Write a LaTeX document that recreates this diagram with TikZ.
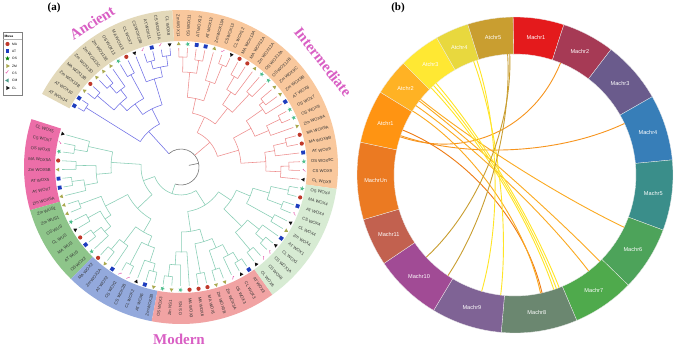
\documentclass[tikz,border=0pt]{standalone}
\usepackage{fontspec}
\setmainfont{Liberation Serif}
\setsansfont{Liberation Sans}
\newfontfamily\djv{DejaVu Sans}
\usetikzlibrary{calc,shapes.geometric}
\definecolor{cOr}{HTML}{F9C89D}
\definecolor{cTan}{HTML}{E3D9BA}
\definecolor{cPk}{HTML}{EC6EA8}
\definecolor{cGr}{HTML}{8EC58A}
\definecolor{cBl}{HTML}{93A9DC}
\definecolor{cSa}{HTML}{F1A3A3}
\definecolor{cLg}{HTML}{D7EBD3}
\definecolor{brBlue}{HTML}{6E6EE6}
\definecolor{brRed}{HTML}{EE8C8C}
\definecolor{brTeal}{HTML}{86CDB4}
\definecolor{brRoot}{HTML}{777777}
\definecolor{mMAc}{HTML}{C0392B}
\definecolor{mATc}{HTML}{1E3DBE}
\definecolor{mOSc}{HTML}{4DBE8C}
\definecolor{mZMc}{HTML}{A9A94E}
\definecolor{mCSc}{HTML}{E0409E}
\definecolor{mCLc}{HTML}{111111}
\definecolor{mCMc}{HTML}{4A9A88}
\definecolor{bigc}{HTML}{D95FC4}
\definecolor{k1}{HTML}{E41A1C}
\definecolor{k2}{HTML}{A63A55}
\definecolor{k3}{HTML}{6A5B8C}
\definecolor{k4}{HTML}{377EB8}
\definecolor{k5}{HTML}{3A8E8A}
\definecolor{k6}{HTML}{4DA35A}
\definecolor{k7}{HTML}{4FAA4C}
\definecolor{k8}{HTML}{6B8770}
\definecolor{k9}{HTML}{7F6395}
\definecolor{k10}{HTML}{A14B95}
\definecolor{k11}{HTML}{C2614F}
\definecolor{kUn}{HTML}{EB7A22}
\definecolor{a1}{HTML}{FF9412}
\definecolor{a2}{HTML}{FFB224}
\definecolor{a3}{HTML}{FFE833}
\definecolor{a4}{HTML}{E8D83E}
\definecolor{a5}{HTML}{C99E30}
\definecolor{ch1}{HTML}{F7941D}
\definecolor{ch1d}{HTML}{EE7A12}
\definecolor{ch2}{HTML}{FBAA22}
\definecolor{ch3}{HTML}{FFE526}
\definecolor{ch5}{HTML}{C99E30}
\def\sS{4.21687}
\def\off{0}
\def\L{119}
\newcommand\angl[1]{(-8+\sS*((#1)+0.5+\off))}
\newcommand\Cl[5]{%
  \draw ({\angl{#2}}:#1) arc[start angle={\angl{#2}}, end angle={\angl{#4}}, radius=#1];
  \draw ({\angl{#2}}:#1) -- ({\angl{#2}}:#3);
  \draw ({\angl{#4}}:#1) -- ({\angl{#4}}:#5);}
\newcommand\ringsec[3]{\fill[#3] ({\angl{#1}}:126) arc[start angle={\angl{#1}}, end angle={\angl{#2}}, radius=126] -- ({\angl{#2}}:157) arc[start angle={\angl{#2}}, end angle={\angl{#1}}, radius=157] -- cycle;}
\newcommand\gmMA{\fill[mMAc] (\myA:123) circle (2.1);}
\newcommand\gmAT{\node[fill=mATc,minimum size=3.8pt,inner sep=0pt,rotate=\myA] at (\myA:123) {};}
\newcommand\gmOS{\node[star,star points=5,star point ratio=2.4,fill=mOSc,minimum size=4.8pt,inner sep=0pt,rotate=\myA] at (\myA:123) {};}
\newcommand\gmZM{\node[isosceles triangle,isosceles triangle apex angle=60,fill=mZMc,minimum size=3.4pt,inner sep=0pt,rotate=\myA] at (\myA:123) {};}
\newcommand\gmCL{\node[isosceles triangle,isosceles triangle apex angle=60,fill=mCLc,minimum size=3.4pt,inner sep=0pt,rotate=\myA+180] at (\myA:123) {};}
\newcommand\gmCS{\node[text=mCSc,font=\djv\fontsize{5.5}{5.5}\selectfont,inner sep=0pt,rotate=\myA-90] at (\myA:123) {✓};}
\newcommand\lf[3]{\pgfmathsetmacro\myA{\angl{#1}}\pgfmathsetmacro\myR{ifthenelse(and(\myA>90,\myA<270),\myA-180,\myA)}\node[glab,rotate=\myR] at (\myA:141.5) {#3};\csname gm#2\endcsname}
\newcommand\seg[4]{\fill[#3, draw=white!85!gray, line width=0.3pt] (#1:121) arc[start angle=#1,end angle=#2,radius=121] -- (#2:158) arc[start angle=#2,end angle=#1,radius=158] -- cycle;
  \node[seglab] at ({(#1+#2)/2}:139.5) {#4};}
\newcommand\chord[3]{\draw[#3, line width=0.9pt] (#1:121) .. controls (#1:50) and (#2:50) .. (#2:121);}
\tikzset{
  glab/.style={font=\sffamily\fontsize{4.2}{4.2}\selectfont, text=black!80, inner sep=0pt},
  seglab/.style={font=\sffamily\fontsize{5.6}{5.6}\selectfont, text=white, inner sep=0pt},
  biglab/.style={font=\bfseries\fontsize{15}{15}\selectfont, text=bigc, inner sep=0pt},
  panlab/.style={font=\bfseries\fontsize{11}{11}\selectfont, text=black, inner sep=0pt},
  leglab/.style={font=\sffamily\fontsize{3.3}{3.3}\selectfont, anchor=west, inner sep=0pt},
}
\begin{document}
\begin{tikzpicture}[x=1pt,y=1pt]
\useasboundingbox (0,0) rectangle (674,346);
\fill[white] (0,0) rectangle (674,346);
% ---------------- panel (a)
\node[panlab] (pa) at (54,338) {(a)};
\begin{scope}[shift={(181,179)}]
  \ringsec{-0.5}{23.5}{cOr}
  \ringsec{23.5}{37.5}{cTan}
  \def\off{2.3714}
  \ringsec{37.5}{45.5}{cPk}
  \ringsec{45.5}{52.5}{cGr}
  \ringsec{52.5}{60.5}{cBl}
  \ringsec{60.5}{71.5}{cSa}
  \ringsec{71.5}{82.5}{cLg}
  \def\off{0}
  % root
  \begin{scope}[draw=brRoot, line width=0.6pt]
    \draw (-108.8:18) arc[start angle=-108.8, end angle=132.28, radius=18];
    \draw (11.74:8) -- (11.74:18);
  \end{scope}
  % intermediate
  \begin{scope}[draw=brRed, line width=0.55pt]
    \draw (40.49:18) -- (40.49:38);
    \Cl{108}{1}{\L}{2}{\L}
    \Cl{100}{0}{\L}{1.5}{108}
    \Cl{108}{4}{\L}{5}{\L}
    \Cl{95}{3}{\L}{4.5}{108}
    \Cl{85}{0.75}{100}{3.75}{95}
    \Cl{110}{7}{\L}{8}{\L}
    \Cl{95}{6}{\L}{7.5}{110}
    \Cl{105}{10}{\L}{11}{\L}
    \Cl{100}{9}{\L}{10.5}{105}
    \Cl{80}{6.75}{95}{9.75}{100}
    \Cl{60}{2.25}{85}{8.25}{80}
    \Cl{100}{12}{\L}{13}{\L}
    \Cl{105}{15}{\L}{16}{\L}
    \Cl{90}{14}{\L}{15.5}{105}
    \Cl{75}{12.5}{100}{14.75}{90}
    \Cl{110}{17}{\L}{18}{\L}
    \Cl{90}{17.5}{110}{19}{\L}
    \Cl{108}{20}{\L}{21}{\L}
    \Cl{110}{22}{\L}{23}{\L}
    \Cl{95}{20.5}{108}{22.5}{110}
    \Cl{70}{18.25}{90}{21.5}{95}
    \Cl{55}{13.625}{75}{19.875}{70}
    \Cl{38}{5.25}{60}{16.75}{55}
  \end{scope}
  % ancient
  \begin{scope}[draw=brBlue, line width=0.55pt]
    \draw (132.28:18) -- (132.28:48);
    \Cl{112}{24}{\L}{25}{\L}
    \Cl{110}{26}{\L}{27}{\L}
    \Cl{102}{24.5}{112}{26.5}{110}
    \Cl{92}{25.5}{102}{28}{\L}
    \Cl{105}{29}{\L}{30}{\L}
    \Cl{108}{32}{\L}{33}{\L}
    \Cl{98}{31}{\L}{32.5}{108}
    \Cl{110}{34}{\L}{35}{\L}
    \Cl{88}{31.75}{98}{34.5}{110}
    \Cl{78}{29.5}{105}{33.125}{88}
    \Cl{65}{26.75}{92}{31.3125}{78}
    \Cl{112}{36}{\L}{37}{\L}
    \Cl{48}{29.03125}{65}{36.5}{112}
  \end{scope}
  % modern
  \def\off{2.3714}
  \begin{scope}[draw=brTeal, line width=0.55pt]
    \draw (251.2:18) -- (251.2:28);
    \Cl{108}{39}{\L}{40}{\L}
    \Cl{95}{38}{\L}{39.5}{108}
    \Cl{105}{41}{\L}{42}{\L}
    \Cl{110}{43}{\L}{44}{\L}
    \Cl{98}{43.5}{110}{45}{\L}
    \Cl{85}{41.5}{105}{44.25}{98}
    \Cl{70}{38.75}{95}{42.875}{85}
    \Cl{108}{46}{\L}{47}{\L}
    \Cl{106}{48}{\L}{49}{\L}
    \Cl{110}{50}{\L}{51}{\L}
    \Cl{100}{50.5}{110}{52}{\L}
    \Cl{92}{48.5}{106}{51.25}{100}
    \Cl{85}{46.5}{108}{49.875}{92}
    \Cl{108}{53}{\L}{54}{\L}
    \Cl{95}{53.5}{108}{55}{\L}
    \Cl{110}{56}{\L}{57}{\L}
    \Cl{108}{59}{\L}{60}{\L}
    \Cl{100}{58}{\L}{59.5}{108}
    \Cl{85}{56.5}{110}{58.75}{100}
    \Cl{75}{54.25}{95}{57.625}{85}
    \Cl{60}{48.1875}{85}{55.9375}{75}
    \Cl{40}{40.8125}{70}{52.0625}{60}
    \Cl{110}{61}{\L}{62}{\L}
    \Cl{98}{61.5}{110}{63}{\L}
    \Cl{85}{62.25}{98}{64}{\L}
    \Cl{108}{65}{\L}{66}{\L}
    \Cl{108}{67}{\L}{68}{\L}
    \Cl{110}{70}{\L}{71}{\L}
    \Cl{100}{69}{\L}{70.5}{110}
    \Cl{88}{67.5}{108}{69.75}{100}
    \Cl{78}{65.5}{108}{68.625}{88}
    \Cl{65}{63.125}{85}{67.0625}{78}
    \Cl{108}{72}{\L}{73}{\L}
    \Cl{110}{74}{\L}{75}{\L}
    \Cl{100}{74.5}{110}{76}{\L}
    \Cl{85}{72.5}{108}{75.25}{100}
    \Cl{105}{77}{\L}{78}{\L}
    \Cl{108}{79}{\L}{80}{\L}
    \Cl{110}{81}{\L}{82}{\L}
    \Cl{92}{79.5}{108}{81.5}{110}
    \Cl{75}{77.5}{105}{80.5}{92}
    \Cl{60}{73.875}{85}{79}{75}
    \Cl{45}{65.09375}{65}{76.4375}{60}
    \Cl{28}{46.4375}{40}{70.765625}{45}
  \end{scope}
  % leaves
  \def\off{0}
  \lf{0}{CL}{CL WOX9}\lf{1}{CS}{CS WOX9}\lf{2}{OS}{OS WOX9C}\lf{3}{AT}{AT WOX9}
  \lf{4}{MA}{MA WOX9B}\lf{5}{MA}{MA WOX9A}\lf{6}{ZM}{Zm WOX9A}\lf{7}{OS}{OS WOX9}
  \lf{8}{OS}{OS WOX7}\lf{9}{AT}{AT WOX8}\lf{10}{ZM}{Zm WOX9B}\lf{11}{ZM}{Zm WOX9C}
  \lf{12}{OS}{OS WOX12B}\lf{13}{OS}{OS WOX12A}\lf{14}{ZM}{Zm WOX12A}\lf{15}{MA}{MA WOX12A}
  \lf{16}{MA}{MA WOX13A}\lf{17}{CL}{CL WOX12}\lf{18}{CS}{CS WOX13}\lf{19}{ZM}{Zm WOX13A}
  \lf{20}{AT}{AT WOX13}\lf{21}{AT}{AT WOX12}\lf{22}{OS}{OS WOX11}\lf{23}{ZM}{Zm WOX11}
  \lf{24}{CL}{CL WOX8}\lf{25}{CS}{CS WOX13A}\lf{26}{AT}{AT WOX11}\lf{27}{CS}{CS WOX13B}
  \lf{28}{CL}{CL WOX7}\lf{29}{MA}{MA WOX13}\lf{30}{OS}{OS WOX13}\lf{31}{ZM}{Zm WOX13E}
  \lf{32}{ZM}{Zm WOX13C}\lf{33}{ZM}{Zm WOX13D}\lf{34}{MA}{MA WOX13B}\lf{35}{ZM}{Zm WOX13B}
  \lf{36}{AT}{AT WOX10}\lf{37}{AT}{AT WOX14}
  \def\off{2.3714}
  \lf{38}{CL}{CL WOX5}\lf{39}{CS}{CS WOX7}\lf{40}{OS}{OS WOX5}\lf{41}{MA}{MA WOX5A}
  \lf{42}{ZM}{Zm WOX5B}\lf{43}{AT}{AT WOX5}\lf{44}{AT}{AT WOX7}\lf{45}{ZM}{Zm WOX5A}
  \lf{46}{ZM}{Zm WUS2}\lf{47}{ZM}{Zm WUS1}\lf{48}{OS}{OS WUS}\lf{49}{CL}{CL WUS}
  \lf{50}{MA}{MA WUS}\lf{51}{AT}{AT WUS}\lf{52}{OS}{OS WOX2}
  \lf{53}{MA}{MA WOX2}\lf{54}{ZM}{Zm WOX2A}\lf{55}{AT}{AT WOX2}\lf{56}{CS}{CS WOX2}
  \lf{57}{CS}{CS WOX2B}\lf{58}{CL}{CL WOX2}\lf{59}{AT}{AT WOX6}\lf{60}{ZM}{Zm WOX2B}
  \lf{61}{OS}{OS WOX3}\lf{62}{ZM}{Zm NS1}\lf{63}{OS}{OS NS}\lf{64}{MA}{MA WOX3}
  \lf{65}{MA}{MA WOX6}\lf{66}{MA}{MA WOX1}\lf{67}{ZM}{Zm WOX3B}\lf{68}{ZM}{Zm WOX3A}
  \lf{69}{CS}{CS WOX3}\lf{70}{CL}{CL WOX3}\lf{71}{AT}{AT WOX3}
  \lf{72}{CL}{CL WOX6}\lf{73}{CS}{CS WOX6}\lf{74}{CS}{CS WOX1A}\lf{75}{CL}{CL WOX1}
  \lf{76}{AT}{AT WOX1}\lf{77}{ZM}{Zm WOX4}\lf{78}{CL}{CL WOX4}\lf{79}{CS}{CS WOX4}
  \lf{80}{AT}{AT WOX4}\lf{81}{MA}{MA WOX4}\lf{82}{OS}{OS WOX4}
\end{scope}
\node[biglab, rotate=32] (tAnc) at (92,323) {Ancient};
\node[biglab, rotate=-52] (tInt) at (323,284) {Intermediate};
\node[biglab, anchor=base] (tMod) at (179,2) {Modern};
% legend
\draw[gray, line width=0.4pt, fill=white] (3,314) rectangle (22,251);
\node[font=\sffamily\bfseries\fontsize{3.3}{3.3}\selectfont, anchor=west, inner sep=0pt] (lgT) at (4.5,309.5) {Musa};
\draw[gray!60, line width=0.2pt] (3,306.5) -- (22,306.5);
\fill[mMAc] (7.5,302) circle (2.1);
\node[leglab] (lg1) at (12,302) {MA};
\node[fill=mATc, minimum size=3.8pt, inner sep=0pt] (lgs2) at (7.5,295) {};
\node[leglab] (lg2) at (12,295) {AT};
\node[star,star points=5,star point ratio=2.4,fill=green!50!black,minimum size=4.8pt,inner sep=0pt] (lgs3) at (7.5,287.5) {};
\node[leglab] (lg3) at (12,287.5) {OS};
\node[isosceles triangle,isosceles triangle apex angle=60,fill=mZMc,minimum size=3.6pt,inner sep=0pt] (lgs4) at (7.5,280) {};
\node[leglab] (lg4) at (12,280) {ZM};
\node[text=mCSc,font=\djv\fontsize{6}{6}\selectfont,inner sep=0pt] (lgs5) at (7.5,273) {✓};
\node[leglab] (lg5) at (12,273) {CS};
\node[isosceles triangle,isosceles triangle apex angle=60,fill=mCMc,minimum size=3.6pt,inner sep=0pt,rotate=180] (lgs6) at (7.5,265.5) {};
\node[leglab] (lg6) at (12,265.5) {CM};
\node[isosceles triangle,isosceles triangle apex angle=60,fill=mCLc,minimum size=3.6pt,inner sep=0pt] (lgs7) at (7.5,258) {};
\node[leglab] (lg7) at (12,258) {CL};
% ---------------- panel (b)
\node[panlab] (pb) at (398,338) {(b)};
\begin{scope}[shift={(515,171)}]
  \seg{72}{90.7}{k1}{Machr1}
  \seg{52.6}{72}{k2}{Machr2}
  \seg{29.7}{52.6}{k3}{Machr3}
  \seg{5.5}{29.7}{k4}{Machr4}
  \seg{-20.4}{5.5}{k5}{Machr5}
  \seg{-44.2}{-20.4}{k6}{Machr6}
  \seg{-67}{-44.2}{k7}{Machr7}
  \seg{-95}{-67}{k8}{Machr8}
  \seg{-121}{-95}{k9}{Machr9}
  \seg{-146}{-121}{k10}{Machr10}
  \seg{-163.6}{-146}{k11}{Machr11}
  \seg{168}{196.4}{kUn}{MachrUn}
  \seg{148.4}{168}{a1}{Atchr1}
  \seg{135}{148.4}{a2}{Atchr2}
  \seg{119.7}{135}{a3}{Atchr3}
  \seg{107.4}{119.7}{a4}{Atchr4}
  \seg{90.7}{107.4}{a5}{Atchr5}
  \chord{161.6}{67.9}{ch1}
  \chord{161}{25.2}{ch1}
  \chord{158.2}{-77.1}{ch1d}
  \chord{141.3}{-25.6}{ch2}
  \chord{142.3}{-45.5}{ch2}
  \chord{145}{-52.5}{ch2}
  \chord{148}{-77.8}{ch2}
  \chord{133.9}{-71.3}{ch3}
  \chord{132.3}{-70}{ch3}
  \chord{130.7}{-68.6}{ch3}
  \chord{108.4}{-106}{ch3}
  \chord{110}{-96.8}{ch3}
  \chord{93.5}{236.3}{ch5}
  \chord{92.5}{222.8}{ch5}
\end{scope}
\end{tikzpicture}
\end{document}
